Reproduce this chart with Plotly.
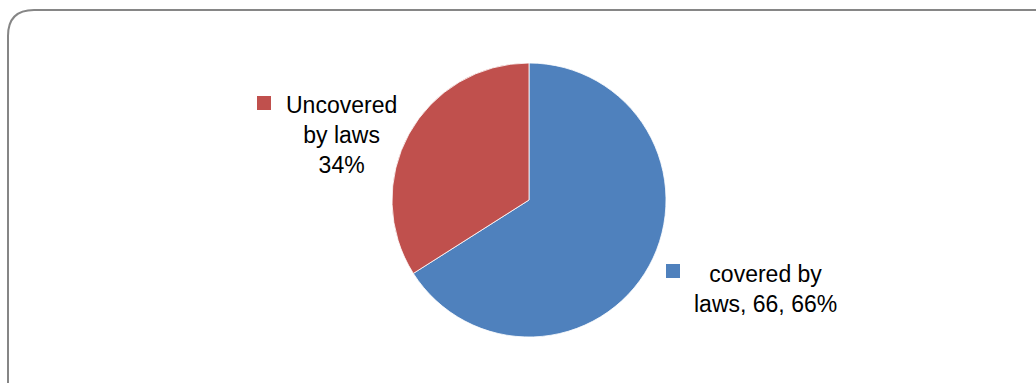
import plotly.graph_objects as go

labels = ["covered by laws", "Uncovered by laws"]
values = [66, 34]
colors = ["#4F81BD", "#C0504D"]

W, H = 1036, 383

def px(x):
    return x / W

def py(y):
    return 1 - y / H

total = sum(values)
pcts = [round(v * 100 / total) for v in values]

fig = go.Figure(go.Pie(
    labels=labels,
    values=values,
    sort=False,
    direction="clockwise",
    rotation=0,
    marker=dict(colors=colors, line=dict(color="rgba(255,255,255,0.8)", width=1)),
    textinfo="none",
    hoverinfo="label+value+percent",
    showlegend=False,
    domain=dict(x=[px(392), px(666)], y=[py(337), py(63)]),
))

font = dict(family="Liberation Sans, Arial, sans-serif", size=23, color="#000000")

# Labels (built from data)
left_text = "Uncovered<br>by laws<br>%d%%" % pcts[1]
right_text = "covered by<br>laws, %d, %d%%" % (values[0], pcts[0])

fig.add_annotation(x=px(341), y=py(135), xref="paper", yref="paper",
                   text=left_text, showarrow=False, font=font,
                   xanchor="center", yanchor="middle", align="center")
fig.add_annotation(x=px(765), y=py(289), xref="paper", yref="paper",
                   text=right_text, showarrow=False, font=font,
                   xanchor="center", yanchor="middle", align="center")

# Legend-key squares
fig.add_shape(type="rect", xref="paper", yref="paper",
              x0=px(257), x1=px(271), y0=py(110), y1=py(96),
              fillcolor=colors[1], line=dict(width=0))
fig.add_shape(type="rect", xref="paper", yref="paper",
              x0=px(666), x1=px(680), y0=py(278), y1=py(264),
              fillcolor=colors[0], line=dict(width=0))

# Rounded border
path = "M %f,%f L %f,%f Q %f,%f %f,%f L %f,%f" % (
    px(8), py(400), px(8), py(36), px(8), py(10), px(34), py(10), px(1045), py(10))
fig.add_shape(type="path", xref="paper", yref="paper", path=path,
              line=dict(color="#868686", width=2))

fig.update_layout(
    width=W, height=H,
    margin=dict(l=0, r=0, t=0, b=0),
    paper_bgcolor="white",
    plot_bgcolor="white",
)

fig.write_html("out.html", config={"displayModeBar": False})

# remove default page margin so the figure aligns with the window
with open("out.html", "r", encoding="utf-8") as f:
    html = f.read()
html = html.replace("<body>", '<body style="margin:0;overflow:hidden">', 1)
with open("out.html", "w", encoding="utf-8") as f:
    f.write(html)
